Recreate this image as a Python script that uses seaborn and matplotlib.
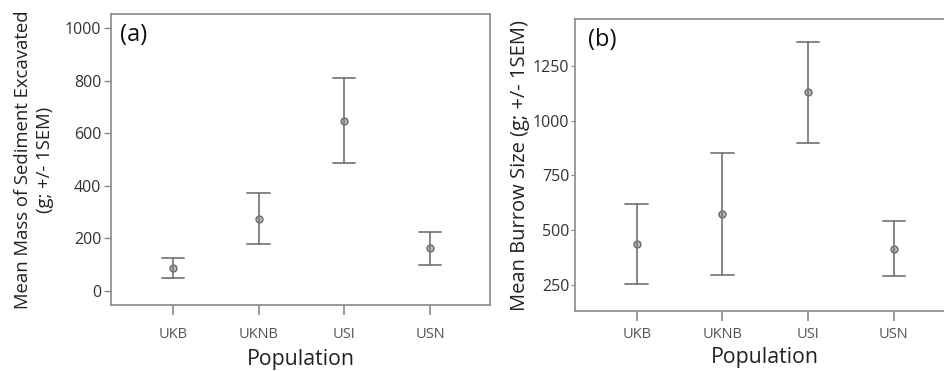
import pandas as pd
import matplotlib.pyplot as plt
import seaborn as sns

populations = ["UKB", "UKNB", "USI", "USN"]

# panel (a): mean mass of sediment excavated, +/- 1 SEM
sed_mean = [88, 274, 647, 163]
sed_low = [48, 177, 485, 100]
sed_high = [127, 374, 809, 225]

# panel (b): mean burrow size, +/- 1 SEM
bur_mean = [435, 575, 1128, 416]
bur_low = [253, 297, 899, 290]
bur_high = [619, 852, 1358, 542]


def long_table(mean, low, high):
    # three rows per group; median gives the mean, min/max give the bar ends
    rows = []
    for p, m, lo, hi in zip(populations, mean, low, high):
        for v in (lo, m, hi):
            rows.append({"Population": p, "value": v})
    return pd.DataFrame(rows)


sns.set_style("white")
plt.rcParams["font.family"] = ["Open Sans", "DejaVu Sans"]

fig = plt.figure(figsize=(9.44, 3.71), dpi=100)
ax_a = fig.add_axes([0.1176, 0.178, 0.4015, 0.7844])
ax_b = fig.add_axes([0.609, 0.1617, 0.4015, 0.787])

grey = "#7c7c7c"

for ax, mean, low, high, pad, lpad in [(ax_a, sed_mean, sed_low, sed_high, 9, 5),
                                       (ax_b, bur_mean, bur_low, bur_high, 4.8, 3.5)]:
    df = long_table(mean, low, high)
    sns.pointplot(data=df, x="Population", y="value", ax=ax,
                  estimator="median", errorbar=lambda v: (v.min(), v.max()),
                  linestyle="none", capsize=0.26, color=grey,
                  markers="o", markersize=5, err_kws={"linewidth": 1.3})
    for ln in ax.lines:
        if ln.get_marker() == "o":
            ln.set_markerfacecolor("#b8b8b8")
            ln.set_markeredgecolor("#6a6a6a")
            ln.set_markeredgewidth(1.0)
    for s in ax.spines.values():
        s.set_color("#8a8a8a")
        s.set_linewidth(1.2)
    ax.set_xlim(-0.72, 3.70)
    ax.tick_params(axis="x", bottom=True, length=7, width=1.2, color="#8a8a8a",
                   labelsize=10.5, labelcolor="#555555", pad=pad)
    ax.set_xlabel("Population", fontsize=15.3, color="#222222", labelpad=lpad)

ax_a.set_ylim(-53, 1053)
ax_a.set_yticks([0, 200, 400, 600, 800, 1000])
ax_a.tick_params(axis="y", left=True, length=5, width=1.0, color="#8a8a8a",
                 labelsize=11.5, labelcolor="#333333", pad=2)
ax_a.set_ylabel("Mean Mass of Sediment Excavated\n(g; +/- 1SEM)", fontsize=13.3,
                color="#222222", linespacing=1.25, labelpad=8)
ax_a.text(0.024, 0.97, "(a)", transform=ax_a.transAxes, fontsize=17,
          va="top", ha="left", color="#111111")

ax_b.set_ylim(131, 1463)
ax_b.set_yticks([250, 500, 750, 1000, 1250])
ax_b.tick_params(axis="y", left=True, length=3, width=0.8, color="#8a8a8a",
                 labelsize=11.5, labelcolor="#333333", pad=1)
ax_b.set_ylabel("Mean Burrow Size (g; +/- 1SEM)", fontsize=14.5,
                color="#222222", labelpad=2)
ax_b.text(0.035, 0.97, "(b)", transform=ax_b.transAxes, fontsize=17,
          va="top", ha="left", color="#111111")

fig.savefig("out.png", dpi=100)
